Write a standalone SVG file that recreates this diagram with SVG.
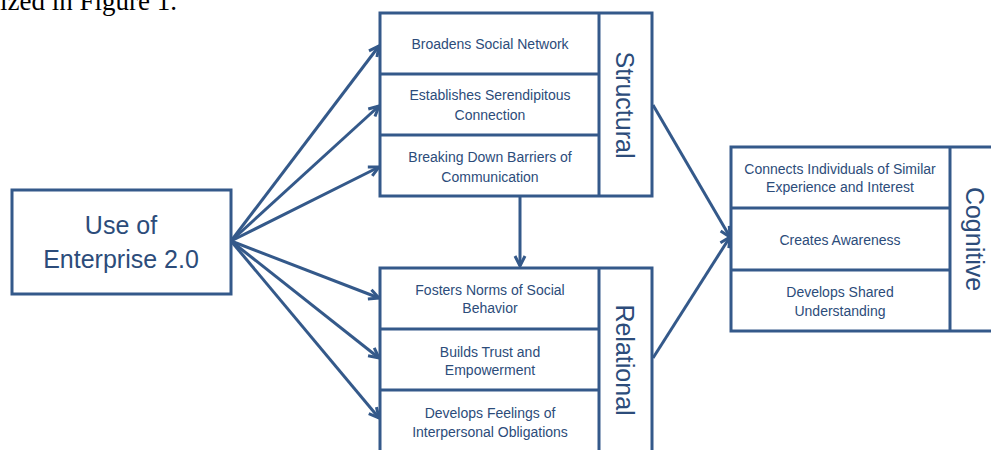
<svg xmlns="http://www.w3.org/2000/svg" width="991" height="450" viewBox="0 0 991 450">
<style>
.box{fill:#fff;stroke:#34598A;stroke-width:3}
.ln{fill:none;stroke:#34598A;stroke-width:3}
.t{font-family:"Liberation Sans",Arial,sans-serif;font-size:14px;fill:#2C4C7A;text-anchor:middle}
.big{font-family:"Liberation Sans",Arial,sans-serif;font-size:25px;fill:#2C4C7A;text-anchor:middle}
.cap{font-family:"Liberation Serif","Times New Roman",serif;font-size:27px;fill:#000}
</style>
<defs>
<marker id="ah" markerUnits="userSpaceOnUse" markerWidth="16" markerHeight="16" refX="11" refY="6" orient="auto" viewBox="0 0 16 12">
<path d="M1,1 L11,6 L1,11" fill="none" stroke="#34598A" stroke-width="3" stroke-linejoin="miter"/>
</marker>
</defs>
<text class="cap" x="0" y="10">ized in Figure 1.</text>
<g id="connectors">
<line class="ln" x1="231" y1="241" x2="379" y2="46" marker-end="url(#ah)"/>
<line class="ln" x1="231" y1="241" x2="379" y2="106" marker-end="url(#ah)"/>
<line class="ln" x1="231" y1="241" x2="379" y2="167" marker-end="url(#ah)"/>
<line class="ln" x1="231" y1="241" x2="379" y2="298" marker-end="url(#ah)"/>
<line class="ln" x1="231" y1="241" x2="379" y2="358" marker-end="url(#ah)"/>
<line class="ln" x1="231" y1="241" x2="379" y2="418" marker-end="url(#ah)"/>
<line class="ln" x1="520" y1="197" x2="520" y2="266" marker-end="url(#ah)"/>
<line class="ln" x1="653" y1="105" x2="730" y2="237" marker-end="url(#ah)"/>
<line class="ln" x1="653" y1="358" x2="730" y2="237" marker-end="url(#ah)"/>
</g>
<g id="use-enterprise">
<rect class="box" x="12" y="190" width="219" height="104"/>
<text class="big" x="121" y="234">Use of</text>
<text class="big" x="121" y="268">Enterprise 2.0</text>
</g>
<g id="structural">
<rect class="box" x="380" y="13" width="272" height="183"/>
<line class="ln" x1="599" y1="13" x2="599" y2="196"/>
<line class="ln" x1="380" y1="74" x2="599" y2="74"/>
<line class="ln" x1="380" y1="135" x2="599" y2="135"/>
<text class="t" x="490" y="49">Broadens Social Network</text>
<text class="t" x="490" y="100">Establishes Serendipitous</text>
<text class="t" x="490" y="120">Connection</text>
<text class="t" x="490" y="162">Breaking Down Barriers of</text>
<text class="t" x="490" y="182">Communication</text>
<text class="big" x="105" y="-616" transform="rotate(90)">Structural</text>
</g>
<g id="relational">
<rect class="box" x="380" y="268" width="272" height="190"/>
<line class="ln" x1="599" y1="268" x2="599" y2="458"/>
<line class="ln" x1="380" y1="329" x2="599" y2="329"/>
<line class="ln" x1="380" y1="390" x2="599" y2="390"/>
<text class="t" x="490" y="295">Fosters Norms of Social</text>
<text class="t" x="490" y="313">Behavior</text>
<text class="t" x="490" y="357">Builds Trust and</text>
<text class="t" x="490" y="375">Empowerment</text>
<text class="t" x="490" y="418">Develops Feelings of</text>
<text class="t" x="490" y="437">Interpersonal Obligations</text>
<text class="big" x="360" y="-616" transform="rotate(90)">Relational</text>
</g>
<g id="cognitive">
<rect class="box" x="731" y="147" width="275" height="184"/>
<line class="ln" x1="950" y1="147" x2="950" y2="331"/>
<line class="ln" x1="731" y1="208" x2="950" y2="208"/>
<line class="ln" x1="731" y1="270" x2="950" y2="270"/>
<text class="t" x="840" y="174">Connects Individuals of Similar</text>
<text class="t" x="840" y="192">Experience and Interest</text>
<text class="t" x="840" y="245">Creates Awareness</text>
<text class="t" x="840" y="297">Develops Shared</text>
<text class="t" x="840" y="316">Understanding</text>
<text class="big" x="239" y="-966" transform="rotate(90)">Cognitive</text>
</g>
</svg>
